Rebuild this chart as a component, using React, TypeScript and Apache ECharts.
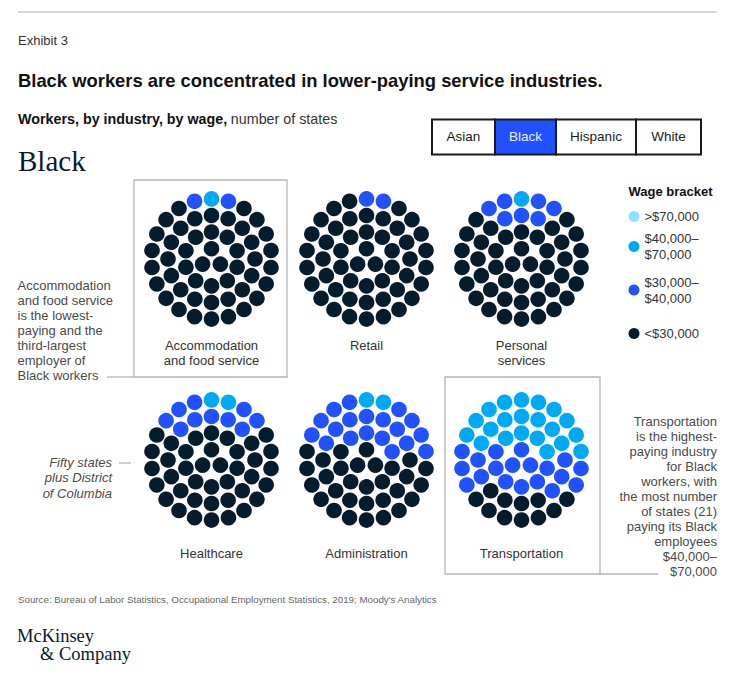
import React, { useEffect, useRef } from "react";
import * as echarts from "echarts";

// ---- Data: number of states (50 + DC) per wage bracket, by industry ----
const INDUSTRIES = [
  "Accommodation\nand food service",
  "Retail",
  "Personal\nservices",
  "Healthcare",
  "Administration",
  "Transportation",
];
const BRACKETS = [">$70,000", "$40,000–\n$70,000", "$30,000–\n$40,000", "<$30,000"];
const STATES_OVER_70K = [0, 0, 0, 0, 0, 0];
const STATES_40K_TO_70K = [1, 0, 1, 2, 2, 21];
const STATES_30K_TO_40K = [2, 2, 7, 10, 19, 19];
const STATES_UNDER_30K = [48, 49, 43, 39, 30, 11];
const BRACKET_COLORS = ["#8ae2ff", "#00a9f4", "#2251ff", "#051c2c"];
const RACE_TABS = ["Asian", "Black", "Hispanic", "White"];
const ACTIVE_TAB = "Black";

// ---- Layout (not data) ----
const RING_COUNTS = [3, 10, 16, 22];
const FIRST_RING = 10.3;
const DOT_SPACING = 16.6;
const DOT_SIZE = 15.6;
const HALF = 70;
const COL_X = [211.5, 366.5, 521.5];
const ROW_Y = [259, 460];
const NAME_GAP = [8.5, 16];

const SANS = "'Liberation Sans', Arial, sans-serif";
const SERIF = "'Liberation Serif', 'Times New Roman', serif";

type Pt = { x: number; y: number; ring: number };

function ringLayout(): Pt[] {
  const pts: Pt[] = [];
  RING_COUNTS.forEach((n, ring) => {
    const r = FIRST_RING + ring * DOT_SPACING;
    for (let k = 0; k < n; k++) {
      const a = -Math.PI / 2 + (2 * Math.PI * k) / n;
      pts.push({ x: r * Math.cos(a), y: r * Math.sin(a), ring });
    }
  });
  // fill order: from the top downward (innermost ring slightly deferred), right before left
  const key = (p: Pt) => p.y + (p.ring === 0 ? 3 : 0);
  pts.sort((p, q) => {
    const d = key(p) - key(q);
    if (Math.abs(d) > 0.5) return d;
    return q.x - p.x;
  });
  return pts;
}

function buildOption() {
  const pts = ringLayout();
  const counts = [STATES_OVER_70K, STATES_40K_TO_70K, STATES_30K_TO_40K, STATES_UNDER_30K];

  const grid = INDUSTRIES.map((_, i) => ({
    left: COL_X[i % 3] - HALF,
    top: ROW_Y[Math.floor(i / 3)] - HALF,
    width: 2 * HALF,
    height: 2 * HALF,
  }));
  const xAxis = INDUSTRIES.map((name, i) => ({
    gridIndex: i,
    type: "value",
    min: -HALF,
    max: HALF,
    name,
    nameLocation: "middle",
    nameGap: NAME_GAP[Math.floor(i / 3)],
    nameTextStyle: { fontFamily: SANS, fontSize: 13, color: "#333", lineHeight: 15 },
    axisLine: { show: false },
    axisTick: { show: false },
    axisLabel: { show: false },
    splitLine: { show: false },
  }));
  const yAxis = INDUSTRIES.map((_, i) => ({
    gridIndex: i,
    type: "value",
    min: -HALF,
    max: HALF,
    axisLine: { show: false },
    axisTick: { show: false },
    axisLabel: { show: false },
    splitLine: { show: false },
  }));

  const series: any[] = [];
  INDUSTRIES.forEach((_, i) => {
    let offset = 0;
    BRACKETS.forEach((b, bi) => {
      const n = counts[bi][i];
      const data = pts.slice(offset, offset + n).map((p) => [p.x, -p.y]);
      offset += n;
      series.push({
        type: "scatter",
        name: b,
        xAxisIndex: i,
        yAxisIndex: i,
        symbol: "circle",
        symbolSize: DOT_SIZE,
        clip: false,
        itemStyle: { color: BRACKET_COLORS[bi], opacity: 1 },
        emphasis: { disabled: true },
        data,
      });
    });
  });

  // legend: one component per item so the icon sits on the first text line
  const LEGEND_ICON_Y = [216.5, 246.5, 290, 333.5];
  const legend = BRACKETS.map((b, bi) => {
    const twoLines = b.includes("\n");
    return {
      orient: "vertical",
      left: 628.5,
      top: LEGEND_ICON_Y[bi] - (twoLines ? 24 : 8),
      padding: 0,
      itemWidth: 11,
      itemHeight: 11,
      selectedMode: false,
      icon: "circle",
      itemStyle: { opacity: 1 },
      data: [
        {
          name: b,
          textStyle: {
            fontFamily: SANS,
            fontSize: 13,
            color: "#333",
            lineHeight: 16,
            padding: twoLines ? [16, 0, 0, 0] : 0,
          },
        },
      ],
    };
  });

  const text = (x: number, y: number, t: string, o: any = {}) => ({
    type: "text",
    x,
    y,
    silent: true,
    style: {
      text: t,
      fill: o.fill || "#333",
      fontFamily: o.fontFamily || SANS,
      fontSize: o.fontSize || 13,
      fontWeight: o.fontWeight || "normal",
      fontStyle: o.fontStyle || "normal",
      align: o.align || "left",
      verticalAlign: o.verticalAlign || "middle",
      lineHeight: o.lineHeight || 15,
      rich: o.rich,
    },
  });
  const line = (x1: number, y1: number, x2: number, y2: number, stroke = "#b5b5b5", w = 1.3) => ({
    type: "line",
    silent: true,
    shape: { x1, y1, x2, y2 },
    style: { stroke, lineWidth: w },
  });

  const TAB_EDGES = [432, 495, 556, 636, 701];
  const tabs: any[] = [];
  RACE_TABS.forEach((t, i) => {
    const x0 = TAB_EDGES[i];
    const x1 = TAB_EDGES[i + 1];
    const active = t === ACTIVE_TAB;
    tabs.push({
      type: "rect",
      silent: true,
      shape: { x: x0, y: 119.5, width: x1 - x0, height: 35 },
      style: { fill: active ? "#2251ff" : "#fff", stroke: "#1a1a1a", lineWidth: 2 },
    });
    tabs.push(
      text((x0 + x1) / 2, 136.5, t, {
        align: "center",
        fontSize: 13.5,
        fill: active ? "#e8ecff" : "#1a1a1a",
      })
    );
  });

  const graphic = [
    line(18, 12, 717, 12, "#b0b0b0", 1.2),
    text(18, 40, "Exhibit 3", { fontSize: 13, fill: "#333" }),
    text(18, 80, "Black workers are concentrated in lower-paying service industries.", {
      fontSize: 18.4,
      fontWeight: "bold",
      fill: "#111",
    }),
    text(18, 119, "{b|Workers, by industry, by wage,} {r|number of states}", {
      rich: {
        b: { fontFamily: SANS, fontSize: 14.3, fontWeight: "bold", fill: "#111" },
        r: { fontFamily: SANS, fontSize: 14.3, fill: "#333" },
      },
    }),
    ...tabs,
    text(18, 161, "Black", { fontFamily: SERIF, fontSize: 29, fill: "#051c2c" }),
    // accommodation callout box
    {
      type: "rect",
      silent: true,
      shape: { x: 134, y: 180, width: 153, height: 197 },
      style: { fill: "none", stroke: "#b5b5b5", lineWidth: 1.3 },
    },
    line(107, 377, 134, 377),
    text(
      17.5,
      277.5,
      "Accommodation\nand food service\nis the lowest-\npaying and the\nthird-largest\nemployer of\nBlack workers",
      { verticalAlign: "top", fill: "#4a4a4a", lineHeight: 15 }
    ),
    text(112, 455, "Fifty states\nplus District\nof Columbia", {
      align: "right",
      verticalAlign: "top",
      fontStyle: "italic",
      fill: "#4a4a4a",
      lineHeight: 15.3,
    }),
    line(119, 463, 131, 463),
    // transportation callout box
    {
      type: "rect",
      silent: true,
      shape: { x: 445, y: 377, width: 155, height: 197 },
      style: { fill: "none", stroke: "#b5b5b5", lineWidth: 1.3 },
    },
    line(600, 574, 658, 574),
    text(
      717,
      414.2,
      "Transportation\nis the highest-\npaying industry\nfor Black\nworkers, with\nthe most number\nof states (21)\npaying its Black\nemployees\n$40,000–\n$70,000",
      { align: "right", verticalAlign: "top", fill: "#4a4a4a", lineHeight: 15 }
    ),
    text(628.5, 191, "Wage bracket", { fontWeight: "bold", fill: "#111" }),
    text(
      18,
      599.5,
      "Source: Bureau of Labor Statistics, Occupational Employment Statistics, 2019; Moody's Analytics",
      { fontSize: 9.75, fill: "#666" }
    ),
    text(17, 636, "McKinsey", { fontFamily: SERIF, fontSize: 18.5, fill: "#051c2c" }),
    text(40, 654, "& Company", { fontFamily: SERIF, fontSize: 18.5, fill: "#051c2c" }),
  ];

  return {
    animation: false,
    backgroundColor: "#ffffff",
    grid,
    xAxis,
    yAxis,
    legend,
    series,
    graphic,
  };
}

export default function App() {
  const ref = useRef<HTMLDivElement>(null);
  useEffect(() => {
    if (!ref.current) return;
    const chart = echarts.init(ref.current, undefined, { renderer: "svg" });
    chart.setOption(buildOption() as any);
    return () => chart.dispose();
  }, []);
  return (
    <div
      ref={ref}
      style={{ position: "fixed", left: 0, top: 0, width: 749, height: 676, background: "#fff" }}
    />
  );
}
